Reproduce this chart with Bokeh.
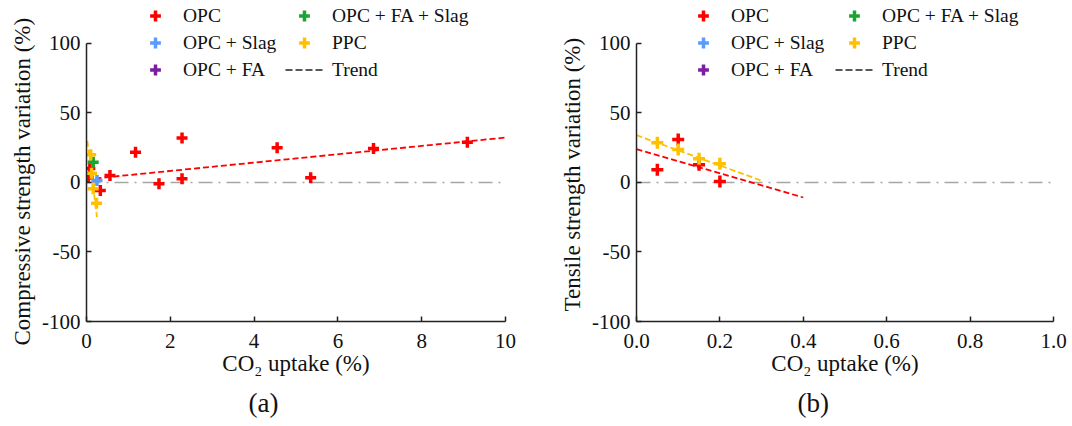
from bokeh.plotting import figure
from bokeh.layouts import row
from bokeh.models import Range1d, FixedTicker, Legend, LegendItem, Title, NumeralTickFormatter
from bokeh.embed import file_html
from bokeh.resources import INLINE

NAN = float("nan")
FONT = "Liberation Serif"
RED = "#ff0000"
BLUE = "#5b9bff"
PURPLE = "#7b1fa2"
GREEN = "#1aa532"
YELLOW = "#ffc000"
GRAY = "#a6a6a6"

# ---------------- (a) compressive strength ----------------
opc_a_x = [0.04, 0.08, 0.33, 0.56, 1.17, 1.73, 2.28, 2.28, 4.55, 5.35, 6.85, 9.09]
opc_a_y = [3.8, 10.0, -5.8, 5.0, 21.8, -1.0, 32.0, 2.7, 25.0, 3.4, 24.5, 29.0]
slag_a_x = [0.25]
slag_a_y = [1.4]
fa_a_x = [NAN]          # no visible OPC + FA point (legend only)
fa_a_y = [NAN]
fas_a_x = [0.16]
fas_a_y = [14.6]
ppc_a_x = [0.10, 0.12, 0.16, 0.24]
ppc_a_y = [20.0, 6.7, -4.5, -15.0]
trend_opc_a_x = [0.0, 10.0]
trend_opc_a_y = [2.3, 32.3]
trend_ppc_a_x = [0.02, 0.25]
trend_ppc_a_y = [30.0, -25.0]
base_a_x = [0.0, 10.0]
base_a_y = [0.0, 0.0]
xticks_a = [0, 2, 4, 6, 8, 10]

# ---------------- (b) tensile strength ----------------
opc_b_x = [0.05, 0.10, 0.15, 0.20]
opc_b_y = [9.2, 31.0, 12.8, 0.7]
ppc_b_x = [0.05, 0.10, 0.15, 0.20]
ppc_b_y = [28.5, 23.7, 17.0, 13.5]
slag_b_x, slag_b_y = [NAN], [NAN]
fa_b_x, fa_b_y = [NAN], [NAN]
fas_b_x, fas_b_y = [NAN], [NAN]
trend_opc_b_x = [0.0, 0.4]
trend_opc_b_y = [24.0, -10.8]
trend_ppc_b_x = [0.0, 0.3]
trend_ppc_b_y = [34.0, 1.3]
base_b_x = [0.0, 1.0]
base_b_y = [0.0, 0.0]
xticks_b = [0.0, 0.2, 0.4, 0.6, 0.8, 1.0]

legend_trend_x = [NAN]  # legend-only sample for the "Trend" entry
legend_trend_y = [NAN]

yticks = [-100, -50, 0, 50, 100]
ytick_labels = {-100: "-100", -50: "-50", 0: "0", 50: "50", 100: "100"}
Y_TOP = 130.9  # frame extends above the axis so the legend fits inside


def make_fig(width, bl, br, xr, xticks, ylabel, ylabel_offset, ylabel_standoff):
    p = figure(width=width, height=426, x_range=Range1d(*xr), y_range=Range1d(-100, Y_TOP),
               output_backend="svg", toolbar_location=None,
               min_border_left=bl, min_border_right=br, min_border_top=0, min_border_bottom=105)
    p.grid.visible = False
    p.outline_line_color = None
    p.background_fill_color = "white"
    p.border_fill_color = "white"
    for ax in (p.xaxis[0], p.yaxis[0]):
        ax.axis_line_color = "#222222"
        ax.axis_line_width = 1.5
        ax.major_tick_line_color = "#222222"
        ax.major_tick_line_width = 1.5
        ax.major_tick_in = 5
        ax.major_tick_out = 0
        ax.minor_tick_line_color = None
        ax.major_label_text_font = FONT
        ax.major_label_text_font_size = "21px"
        ax.major_label_text_color = "#111111"
        ax.axis_label_text_font = FONT
        ax.axis_label_text_font_size = "23px"
        ax.axis_label_text_font_style = "normal"
        ax.axis_label_text_color = "#111111"
    p.xaxis[0].ticker = FixedTicker(ticks=xticks)
    p.yaxis[0].ticker = FixedTicker(ticks=yticks)
    p.yaxis[0].major_label_overrides = ytick_labels
    p.yaxis[0].bounds = (-100, 100)
    p.xaxis[0].axis_label = "CO\u2082 uptake (%)"
    p.xaxis[0].major_label_standoff = 12
    p.xaxis[0].axis_label_standoff = 0
    p.yaxis[0].major_label_standoff = 6
    yt = Title(text=ylabel, align="left", offset=ylabel_offset, text_font=FONT,
               text_font_size="23px", text_font_style="normal", text_color="#111111",
               standoff=ylabel_standoff)
    p.add_layout(yt, "left")
    return p


def style_legend(leg):
    leg.label_text_font = FONT
    leg.label_text_font_size = "19.5px"
    leg.label_text_color = "#111111"
    leg.glyph_width = 38
    leg.glyph_height = 27
    leg.label_height = 26
    leg.spacing = 0
    leg.padding = 0
    leg.margin = 0
    leg.label_standoff = 9
    leg.border_line_color = None
    leg.background_fill_alpha = 0


def populate(p, d, size, col1_x, col2_x, tag, tag_offset):
    base_x, base_y, t1x, t1y, t2x, t2y, ox, oy, sx, sy, fx, fy, gx, gy, px, py = d
    p.line(base_x, base_y, line_color=GRAY, line_width=1.5, line_dash="14 6 2 6")
    p.line(t1x, t1y, line_color=RED, line_width=1.8, line_dash="6 3")
    p.line(t2x, t2y, line_color=YELLOW, line_width=1.8, line_dash="6 3")
    kw = dict(marker="cross", size=size, line_width=3.5)
    r_opc = p.scatter(ox, oy, line_color=RED, **kw)
    r_fas = p.scatter(gx, gy, line_color=GREEN, **kw)
    r_slag = p.scatter(sx, sy, line_color=BLUE, **kw)
    r_fa = p.scatter(fx, fy, line_color=PURPLE, **kw)
    r_ppc = p.scatter(px, py, line_color=YELLOW, **kw)
    r_trend = p.line(legend_trend_x, legend_trend_y, line_color="#222222", line_width=1.5,
                     line_dash="7 3")
    leg1 = Legend(items=[LegendItem(label="OPC", renderers=[r_opc]),
                         LegendItem(label="OPC + Slag", renderers=[r_slag]),
                         LegendItem(label="OPC + FA", renderers=[r_fa])],
                  location=(col1_x, 238))
    leg2 = Legend(items=[LegendItem(label="OPC + FA + Slag", renderers=[r_fas]),
                         LegendItem(label="PPC", renderers=[r_ppc]),
                         LegendItem(label="Trend", renderers=[r_trend])],
                  location=(col2_x, 238))
    for lg in (leg1, leg2):
        style_legend(lg)
        p.add_layout(lg)
    t = Title(text=tag, align="left", offset=tag_offset, text_font=FONT, text_font_size="27px",
              text_font_style="normal", text_color="#111111", standoff=15)
    p.add_layout(t, "below")


pa = make_fig(540, 86, 35, (0, 10), xticks_a, "Compressive strength variation (%)", -24, 10)
populate(pa, (base_a_x, base_a_y, trend_opc_a_x, trend_opc_a_y, trend_ppc_a_x, trend_ppc_a_y,
              opc_a_x, opc_a_y, slag_a_x, slag_a_y, fa_a_x, fa_a_y, fas_a_x, fas_a_y, ppc_a_x, ppc_a_y),
         11, 50, 199, "(a)", 162)

pb = make_fig(532, 96, 19, (0, 1.0), xticks_b, "Tensile strength variation (%)", 10, 9)
pb.xaxis[0].formatter = NumeralTickFormatter(format="0.0")
populate(pb, (base_b_x, base_b_y, trend_opc_b_x, trend_opc_b_y, trend_ppc_b_x, trend_ppc_b_y,
              opc_b_x, opc_b_y, slag_b_x, slag_b_y, fa_b_x, fa_b_y, fas_b_x, fas_b_y, ppc_b_x, ppc_b_y),
         12, 48, 199, "(b)", 161)

layout = row(pa, pb)
open("out.html", "w").write(file_html(layout, INLINE))
